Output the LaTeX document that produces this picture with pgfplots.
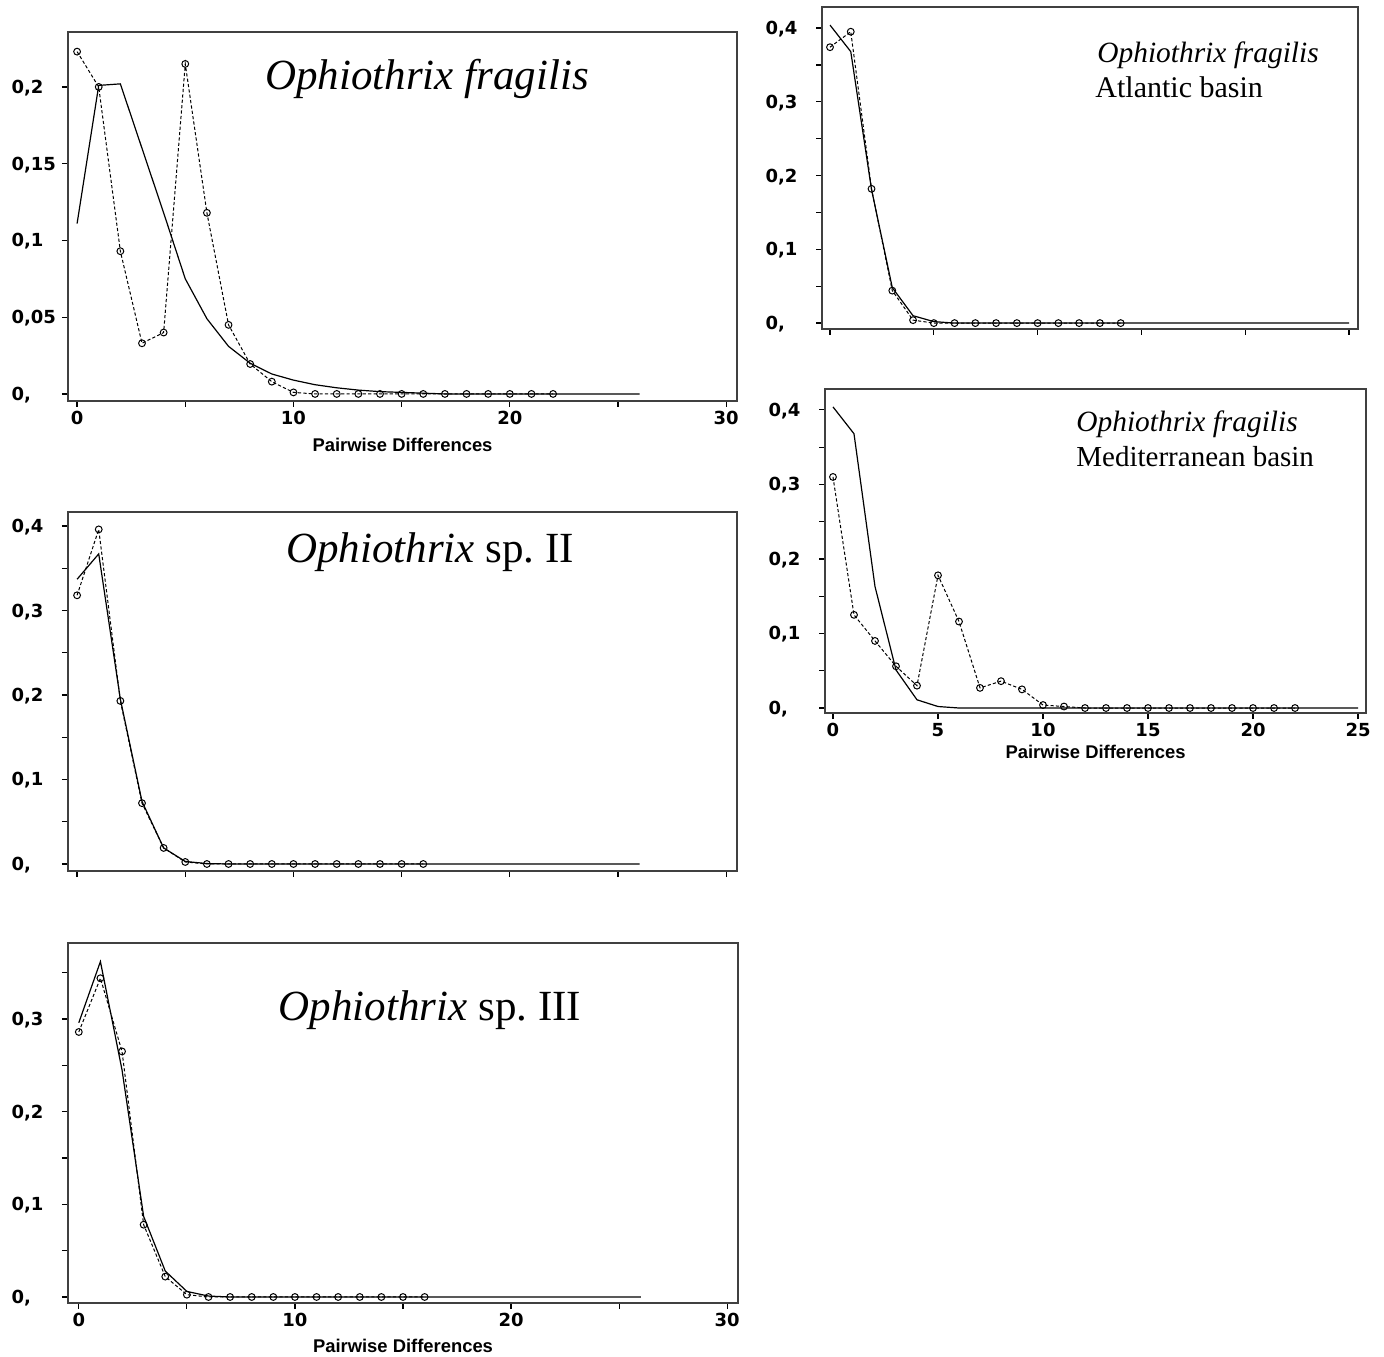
\documentclass[border=0pt]{standalone}
\usepackage{fontspec}
\usepackage{pgfplots}
\pgfplotsset{compat=1.18}
\newfontfamily\tickfont{DejaVu Sans}
\newfontfamily\labfont{Liberation Sans}
\newfontfamily\titfont{Liberation Serif}
\newcommand{\yl}[1]{\makebox[24pt][l]{#1}}
\pgfplotsset{
  rh/.style={
    scale only axis,
    anchor=south west,
    axis line style={line width=0.75pt, black!75},
    tick align=outside,
    xtick pos=bottom, ytick pos=left,
    major tick length=3pt, minor tick length=3pt,
    every tick/.style={line width=0.6pt, black},
    /pgf/number format/assume math mode=true,
    tick label style={font=\tickfont\bfseries\fontsize{9}{9}\selectfont, inner sep=0pt, text height=6.5pt, text depth=0pt},
    yticklabel style={anchor=east, xshift=-1pt},
    xticklabel style={anchor=north, yshift=-2pt},
    xlabel style={font=\labfont\bfseries\fontsize{9.2}{9.2}\selectfont, at={(axis description cs:0.5,0)}, anchor=center, yshift=-22pt},
  },
  obs/.style={black, line width=0.5pt, dash pattern=on 1.6pt off 1.1pt, mark=o, mark size=1.7pt, mark options={solid, line width=0.5pt, fill=white}},
  exp/.style={black, line width=0.6pt, no markers},
}
\begin{document}
\begin{tikzpicture}
\path[use as bounding box] (0,0) rectangle (692pt,678pt);

% Panel 1: Ophiothrix fragilis
\begin{axis}[rh, at={(34pt,477.5pt)}, width=334.5pt, height=184.5pt,
  xmin=-0.42, xmax=30.5, ymin=-0.0046, ymax=0.2358,
  xtick={0,10,20,30}, minor xtick={5,15,25},
  ytick={0,0.05,0.1,0.15,0.2},
  yticklabels={\yl{0,},\yl{0,05},\yl{0,1},\yl{0,15},\yl{0,2}},
  xlabel={Pairwise Differences}]
\addplot[exp] coordinates {(0,0.111)(1,0.201)(2,0.202)(3,0.160)(4,0.118)(5,0.075)(6,0.049)(7,0.031)(8,0.020)(9,0.013)(10,0.009)(11,0.006)(12,0.004)(13,0.0025)(14,0.0015)(15,0.001)(16,0.0005)(17,0)(18,0)(19,0)(20,0)(21,0)(22,0)(23,0)(24,0)(25,0)(26,0)};
\addplot[obs] coordinates {(0,0.223)(1,0.200)(2,0.093)(3,0.033)(4,0.040)(5,0.215)(6,0.118)(7,0.045)(8,0.0195)(9,0.008)(10,0.001)(11,0)(12,0)(13,0)(14,0)(15,0)(16,0)(17,0)(18,0)(19,0)(20,0)(21,0)(22,0)};
\end{axis}

% Panel 4: Ophiothrix sp. II
\begin{axis}[rh, at={(34pt,242.5pt)}, width=334.5pt, height=179.5pt,
  xmin=-0.42, xmax=30.5, ymin=-0.0083, ymax=0.4166,
  xtick={0,5,10,15,20,25,30}, xticklabels={},
  ytick={0,0.1,0.2,0.3,0.4}, minor ytick={0.05,0.15,0.25,0.35},
  yticklabels={\yl{0,},\yl{0,1},\yl{0,2},\yl{0,3},\yl{0,4}}]
\addplot[exp] coordinates {(0,0.337)(1,0.367)(2,0.195)(3,0.074)(4,0.019)(5,0.003)(6,0.0005)(7,0)(8,0)(9,0)(10,0)(11,0)(12,0)(13,0)(14,0)(15,0)(16,0)(17,0)(18,0)(19,0)(20,0)(21,0)(22,0)(23,0)(24,0)(25,0)(26,0)};
\addplot[obs] coordinates {(0,0.318)(1,0.396)(2,0.193)(3,0.072)(4,0.019)(5,0.0024)(6,0)(7,0)(8,0)(9,0)(10,0)(11,0)(12,0)(13,0)(14,0)(15,0)(16,0)};
\end{axis}

% Panel 5: Ophiothrix sp. III
\begin{axis}[rh, at={(34pt,26.5pt)}, width=335pt, height=180pt,
  xmin=-0.5, xmax=30.5, ymin=-0.0065, ymax=0.382,
  xtick={0,10,20,30}, minor xtick={5,15,25},
  ytick={0,0.1,0.2,0.3}, minor ytick={0.05,0.15,0.25,0.35},
  yticklabels={\yl{0,},\yl{0,1},\yl{0,2},\yl{0,3}},
  xlabel={Pairwise Differences}, xlabel style={yshift=0.5pt}]
\addplot[exp] coordinates {(0,0.296)(1,0.362)(2,0.245)(3,0.087)(4,0.028)(5,0.006)(6,0.001)(7,0)(8,0)(9,0)(10,0)(11,0)(12,0)(13,0)(14,0)(15,0)(16,0)(17,0)(18,0)(19,0)(20,0)(21,0)(22,0)(23,0)(24,0)(25,0)(26,0)};
\addplot[obs] coordinates {(0,0.286)(1,0.344)(2,0.265)(3,0.078)(4,0.022)(5,0.0025)(6,0)(7,0)(8,0)(9,0)(10,0)(11,0)(12,0)(13,0)(14,0)(15,0)(16,0)};
\end{axis}

% Panel 2: Atlantic basin
\begin{axis}[rh, at={(411pt,513.5pt)}, width=268pt, height=161pt,
  xmin=-0.385, xmax=25.43, ymin=-0.008, ymax=0.4285,
  xtick={0,5,10,15,20,25}, xticklabels={},
  ytick={0,0.1,0.2,0.3,0.4}, minor ytick={0.05,0.15,0.25,0.35},
  yticklabels={\yl{0,},\yl{0,1},\yl{0,2},\yl{0,3},\yl{0,4}}]
\addplot[exp] coordinates {(0,0.404)(1,0.368)(2,0.181)(3,0.048)(4,0.010)(5,0.002)(6,0)(7,0)(8,0)(9,0)(10,0)(11,0)(12,0)(13,0)(14,0)(15,0)(16,0)(17,0)(18,0)(19,0)(20,0)(21,0)(22,0)(23,0)(24,0)(25,0)};
\addplot[obs] coordinates {(0,0.374)(1,0.395)(2,0.182)(3,0.044)(4,0.004)(5,0)(6,0)(7,0)(8,0)(9,0)(10,0)(11,0)(12,0)(13,0)(14,0)};
\end{axis}

% Panel 3: Mediterranean basin
\begin{axis}[rh, at={(412.5pt,321.5pt)}, width=270.5pt, height=162pt,
  xmin=-0.38, xmax=25.38, ymin=-0.0067, ymax=0.428,
  xtick={0,5,10,15,20,25},
  ytick={0,0.1,0.2,0.3,0.4}, minor ytick={0.05,0.15,0.25,0.35},
  yticklabels={\yl{0,},\yl{0,1},\yl{0,2},\yl{0,3},\yl{0,4}},
  xlabel={Pairwise Differences}, xlabel style={yshift=2.5pt}]
\addplot[exp] coordinates {(0,0.404)(1,0.368)(2,0.163)(3,0.051)(4,0.011)(5,0.002)(6,0)(7,0)(8,0)(9,0)(10,0)(11,0)(12,0)(13,0)(14,0)(15,0)(16,0)(17,0)(18,0)(19,0)(20,0)(21,0)(22,0)(23,0)(24,0)(25,0)};
\addplot[obs] coordinates {(0,0.310)(1,0.125)(2,0.090)(3,0.056)(4,0.030)(5,0.178)(6,0.116)(7,0.027)(8,0.036)(9,0.025)(10,0.004)(11,0.002)(12,0)(13,0)(14,0)(15,0)(16,0)(17,0)(18,0)(19,0)(20,0)(21,0)(22,0)};
\end{axis}

% Titles
\node[anchor=base, inner sep=0pt, font=\titfont\fontsize{21.5}{21.5}\selectfont] at (213.5pt,633pt) {\itshape Ophiothrix fragilis};
\node[anchor=base, inner sep=0pt, font=\titfont\fontsize{21.5}{21.5}\selectfont] at (215pt,396.5pt) {\textit{Ophiothrix} sp.\ II};
\node[anchor=base, inner sep=0pt, font=\titfont\fontsize{21.5}{21.5}\selectfont] at (215pt,168pt) {\textit{Ophiothrix} sp.\ III};
\node[anchor=base west, inner sep=0pt, font=\titfont\fontsize{14.7}{14.7}\selectfont] at (548.5pt,646.5pt) {\itshape Ophiothrix fragilis};
\node[anchor=base west, inner sep=0pt, font=\titfont\fontsize{15}{15}\selectfont] at (547.5pt,629pt) {Atlantic basin};
\node[anchor=base west, inner sep=0pt, font=\titfont\fontsize{14.7}{14.7}\selectfont] at (538pt,462pt) {\itshape Ophiothrix fragilis};
\node[anchor=base west, inner sep=0pt, font=\titfont\fontsize{14.5}{14.5}\selectfont] at (538pt,444.5pt) {Mediterranean basin};
\end{tikzpicture}
\end{document}
